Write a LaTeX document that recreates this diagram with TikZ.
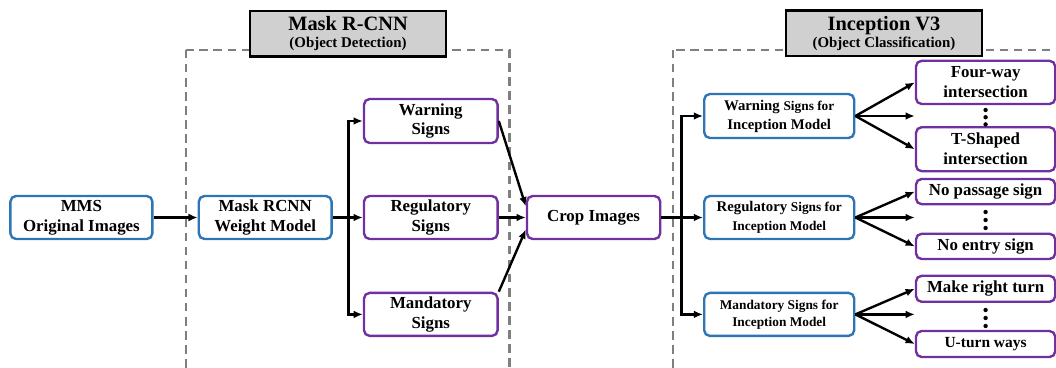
\documentclass[tikz,border=0pt]{standalone}
\usepackage{fontspec}
\setmainfont{Liberation Serif}
\usepackage{xcolor}
\definecolor{flblue}{HTML}{2E75B6}
\definecolor{flpurple}{HTML}{7030A0}
\definecolor{flhead}{HTML}{D0D0D0}
\definecolor{flframe}{HTML}{7F7F7F}
\usetikzlibrary{arrows.meta}
\newcommand{\flbig}{\fontsize{12}{14.2}\selectfont\bfseries}
\newcommand{\flmid}{\fontsize{10.5}{13.5}\selectfont\bfseries}
\newcommand{\flsmall}{\fontsize{9.5}{11.9}\selectfont\bfseries}
\tikzset{
  flbox/.style    ={rectangle, rounded corners=4pt, line width=1.7pt, fill=white,
                    inner sep=0pt, align=center, font=\flbig, text=black},
  flstage/.style  ={flbox, draw=flblue},
  flclass/.style  ={flbox, draw=flpurple},
  flmodel/.style  ={flstage, minimum width=3.75cm, minimum height=1.075cm, font=\flmid},
  fllabel/.style  ={flclass, minimum width=3.48cm},
  fltitle/.style  ={rectangle, draw=black, fill=flhead, line width=1.8pt,
                    minimum width=4.9cm, minimum height=1.14cm, inner sep=0pt, align=center},
  flgroup/.style  ={draw=flframe, line width=1.6pt, dash pattern=on 6pt off 4pt},
  flarrow/.style  ={-{Latex[length=6.5pt,width=5.5pt]}, line width=1.7pt, draw=black},
}

\begin{document}
\begin{tikzpicture}
  \clip (0,0) rectangle (26.4,-9.175);
  % dashed frames of the two networks
  \draw[flgroup] (4.65,-1.25) rectangle (12.74,-9.6);
  \draw[flgroup] (16.83,-1.25) rectangle (26.9,-9.6);
  \node[fltitle] (titleA) at (8.7,-0.84)
    {{\fontsize{14.5}{12.8}\selectfont\bfseries Mask R-CNN}\\{\fontsize{10.6}{12.8}\selectfont\bfseries (Object Detection)}};
  \node[fltitle] (titleB) at (22.1,-0.83)
    {{\fontsize{14.5}{12.8}\selectfont\bfseries Inception V3}\\{\fontsize{10.6}{12.8}\selectfont\bfseries (Object Classification)}};

  % detection stage
  \node[flstage, minimum width=3.55cm, minimum height=1.075cm] (mms) at (2.035,-5.4375) {MMS\\Original Images};
  \node[flstage, minimum width=3.32cm, minimum height=1.075cm] (mrcnn) at (6.63,-5.4375) {Mask RCNN\\Weight Model};
  \node[flclass, minimum width=3.34cm, minimum height=1.1cm] (warn) at (10.77,-3.025) {Warning\\Signs};
  \node[flclass, minimum width=3.34cm, minimum height=1.075cm] (regu) at (10.77,-5.4375) {Regulatory\\Signs};
  \node[flclass, minimum width=3.34cm, minimum height=1.075cm] (mand) at (10.77,-7.86) {Mandatory\\Signs};
  \node[flclass, minimum width=3.33cm, minimum height=1.075cm] (crop) at (14.84,-5.4375) {Crop Images};

  % classification stage
  \node[flmodel, minimum height=1.1cm] (incW) at (19.48,-2.9) {Warning {\flsmall Signs for}\\Inception Model};
  \node[flmodel] (incR) at (19.48,-5.4375) {Regulatory {\flsmall Signs for}\\{\flsmall Inception Model}};
  \node[flmodel, font=\flsmall] (incM) at (19.48,-7.86) {Mandatory Signs for\\Inception Model};

  \node[fllabel, minimum height=1.08cm] (fourway) at (24.64,-2.06) {Four-way\\intersection};
  \node[fllabel, minimum height=1.1cm] (tshape) at (24.64,-3.73) {T-Shaped\\intersection};
  \node[fllabel, minimum height=0.63cm] (nopass) at (24.64,-4.79) {No passage sign};
  \node[fllabel, minimum height=0.63cm] (noentry) at (24.64,-6.16) {No entry sign};
  \node[fllabel, minimum height=0.65cm] (mkright) at (24.64,-7.22) {Make right turn};
  \node[fllabel, minimum height=0.65cm, font=\fontsize{11}{13}\selectfont\bfseries] (uturn) at (24.64,-8.6) {U-turn ways};

  % omitted classes
  \foreach \y in {-2.75,-2.93,-3.11, -5.3,-5.5,-5.7, -7.75,-7.95,-8.15}
    \fill (24.64,\y) circle (0.055);

  % connectors
  \coordinate (forkA) at (8.71,-5.4375);
  \coordinate (forkB) at (17.04,-5.4375);
  \draw[flarrow] (mms) -- (mrcnn);
  \draw[flarrow] (mrcnn) -- (regu);
  \draw[flarrow] (forkA) |- (warn.west);
  \draw[flarrow] (forkA) |- (mand.west);
  \draw[flarrow] (warn.east) -- ([yshift=0.28cm]crop.west);
  \draw[flarrow] (regu) -- (crop);
  \draw[flarrow] (mand.north east) -- ([yshift=-0.3cm]crop.west);
  \draw[flarrow] (crop) -- (incR);
  \draw[flarrow] (forkB) |- (incW.west);
  \draw[flarrow] (forkB) |- (incM.west);

  \draw[flarrow] (incW.east) -- (fourway.west);
  \draw[flarrow] (incW.east) -- (incW.east -| tshape.west);
  \draw[flarrow] (incW.east) -- (tshape.west);
  \draw[flarrow] (incR.east) -- (nopass.west);
  \draw[flarrow] (incR.east) -- (incR.east -| noentry.west);
  \draw[flarrow] (incR.east) -- (noentry.west);
  \draw[flarrow] (incM.east) -- (mkright.west);
  \draw[flarrow] (incM.east) -- (incM.east -| uturn.west);
  \draw[flarrow] (incM.east) -- (uturn.west);
\end{tikzpicture}
\end{document}
